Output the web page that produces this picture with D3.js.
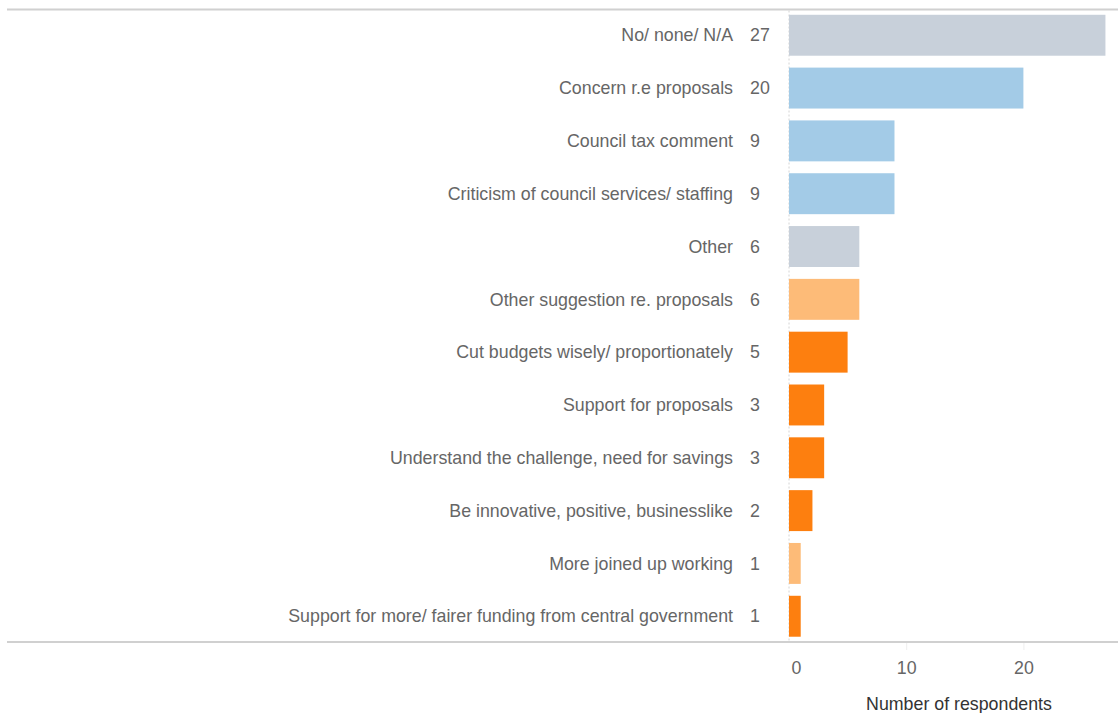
<!DOCTYPE html>
<html><head><meta charset="utf-8">
<script src="https://cdn.jsdelivr.net/npm/d3@7"></script>
<style>
body{margin:0;background:#fff;}
svg{display:block;font-family:"Liberation Sans",Arial,sans-serif;}
</style></head>
<body>
<svg id="chart" width="1118" height="713"></svg>
<script>
const categories = [
  "No/ none/ N/A",
  "Concern r.e proposals",
  "Council tax comment",
  "Criticism of council services/ staffing",
  "Other",
  "Other suggestion re. proposals",
  "Cut budgets wisely/ proportionately",
  "Support for proposals",
  "Understand the challenge, need for savings",
  "Be innovative, positive, businesslike",
  "More joined up working",
  "Support for more/ fairer funding from central government"
];
const values = [27, 20, 9, 9, 6, 6, 5, 3, 3, 2, 1, 1];
const groups = ["neutral","negative","negative","negative","neutral","suggestion","positive","positive","positive","positive","suggestion","positive"];
const groupColors = {neutral:"#c8d0da", negative:"#a3cbe7", suggestion:"#fdbb78", positive:"#fd7f0f"};
const xTicks = [0, 10, 20];
const axisTitle = "Number of respondents";

const svg = d3.select("#chart");
const mLeft = 789, mRight = 1118, mTop = 9.5, mBottom = 642;
const FS = 17.8;

const x = d3.scaleLinear().domain([0, 27.2]).range([mLeft, mLeft + 27.2*11.72]);
const y = d3.scaleBand().domain(categories).range([mTop, mBottom]).paddingInner(0.225).paddingOuter(0.1);

svg.append("line").attr("x1",7).attr("x2",mRight).attr("y1",mTop).attr("y2",mTop)
  .attr("stroke","#d0d0d0").attr("stroke-width",2);
svg.append("line").attr("x1",x(0)).attr("x2",x(0)).attr("y1",mTop+1).attr("y2",mBottom)
  .attr("stroke","#d4d4d4").attr("stroke-width",1).attr("stroke-dasharray","2,2");

svg.append("g").selectAll("rect").data(values).join("rect")
  .attr("x", x(0))
  .attr("y", (d,i)=>y(categories[i]))
  .attr("width", d=>x(d)-x(0))
  .attr("height", y.bandwidth())
  .attr("fill", (d,i)=>groupColors[groups[i]]);

svg.append("g").selectAll("text").data(categories).join("text")
  .attr("x", 733).attr("y", d=>y(d)+y.bandwidth()/2)
  .attr("dy","0.35em").attr("text-anchor","end")
  .attr("font-size",FS).attr("fill","#666").text(d=>d);

svg.append("g").selectAll("text").data(values).join("text")
  .attr("x", 750).attr("y", (d,i)=>y(categories[i])+y.bandwidth()/2)
  .attr("dy","0.35em").attr("text-anchor","start")
  .attr("font-size",FS).attr("fill","#666").text(d=>d);

const axis = d3.axisBottom(x).tickValues(xTicks).tickSize(8).tickPadding(11).tickFormat(d3.format("d"));
const gx = svg.append("g").attr("transform",`translate(0,${mBottom})`).call(axis);
gx.select(".domain").remove();
gx.selectAll(".tick line").attr("stroke","#eee").attr("stroke-width",1);
gx.selectAll(".tick").filter(d=>d===0).select("line").remove();
gx.selectAll(".tick text").attr("font-size",FS).attr("fill","#666")
  .attr("font-family",'"Liberation Sans",Arial,sans-serif');
gx.selectAll(".tick").filter(d=>d===0).select("text").attr("dx",7);

svg.append("line").attr("x1",7).attr("x2",mRight).attr("y1",mBottom).attr("y2",mBottom)
  .attr("stroke","#d0d0d0").attr("stroke-width",2);

svg.append("text").attr("x", 959).attr("y", 704).attr("dy","0.35em")
  .attr("text-anchor","middle").attr("font-size",FS).attr("fill","#333").text(axisTitle);
</script>
</body></html>
